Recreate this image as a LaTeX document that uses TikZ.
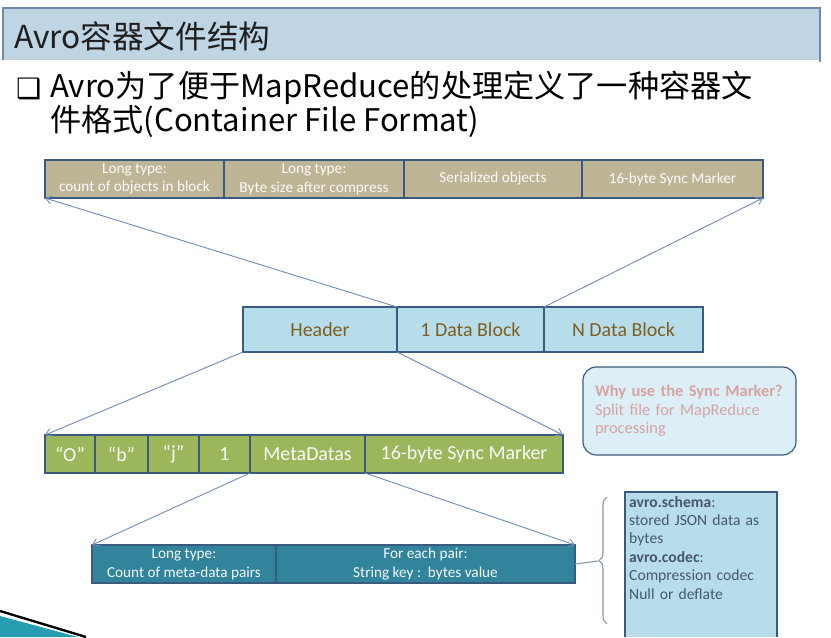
\documentclass[tikz,border=0pt]{standalone}
\usepackage{fontspec}
\setmainfont{Carlito}
\newfontfamily\cjk{Noto Sans CJK SC}
\newfontfamily\symfont{DejaVu Sans}
\usetikzlibrary{
    positioning,
    arrows.meta,
    decorations.pathreplacing
}
\definecolor{barfill}{HTML}{BFD5E4}
\definecolor{barline}{HTML}{6E8CA8}
\definecolor{cellline}{HTML}{3B5B7E}
\definecolor{tanfill}{HTML}{BEB596}
\definecolor{bluefill}{HTML}{B8DDEA}
\definecolor{greenfill}{HTML}{9CB65C}
\definecolor{tealfill}{HTML}{31849B}
\definecolor{linkcol}{HTML}{7190BC}
\definecolor{browntext}{HTML}{7D5E1E}
\definecolor{pinktext}{HTML}{D8A3A3}
\definecolor{notefill}{HTML}{DCEEF6}
\definecolor{notetext}{HTML}{45586A}
\definecolor{bracecol}{HTML}{8295A8}
\tikzset{
    >={Straight Barb[length=5pt,width=7pt]},
    cell/.style={
        draw=cellline,
        line width=1pt,
        outer sep=0pt,
        inner sep=0pt,
        align=center
    },
    tancell/.style={cell, fill=tanfill, text=white!95!tanfill,
        minimum height=1.14cm, font=\fontsize{13}{16}\selectfont},
    bluecell/.style={cell, fill=bluefill, text=browntext,
        minimum height=1.35cm, font=\fontsize{17}{20}\selectfont},
    greencell/.style={cell, fill=greenfill, text=white!95!greenfill,
        minimum height=1.14cm, font=\fontsize{17}{20}\selectfont},
    tealcell/.style={cell, fill=tealfill, text=white!95!tealfill,
        minimum height=1.14cm, font=\fontsize{13}{16}\selectfont},
    link/.style={draw=linkcol, line width=0.8pt}
}

\begin{document}
\begin{tikzpicture}[
    x=0.03cm,
    y=-0.03cm
]
    \useasboundingbox (0,0) rectangle (831,637);

    % Titelbalken
    \fill[barfill] (3,8) rectangle (820,60);
    \draw[barline, line width=1pt] (3,60) -- (3,8) -- (820,8) -- (820,62);
    \node[anchor=west, text=black!88, font=\cjk\fontsize{27}{30}\selectfont]
        (title) at (10,36) {Avro容器文件结构};

    % Aufzaehlung
    \node[anchor=base west, font=\symfont\fontsize{24}{26}\selectfont]
        (tick) at (12,98) {❑};
    \node[anchor=base west, font=\cjk\fontsize{26.6}{30}\selectfont]
        (intro1) at (46,97) {Avro为了便于MapReduce的处理定义了一种容器文};
    \node[anchor=base west, font=\cjk\fontsize{26.6}{30}\selectfont]
        (intro2) at (46,131) {件格式(Container File Format)};

    % Datenblock
    \node[tancell, minimum width=5.37cm, anchor=west] (cnt) at (45,179)
        {Long type:\\count of objects in block};
    \node[tancell, minimum width=5.40cm, right=0pt of cnt] (size)
        {Long type:\\Byte size after compress};
    \node[tancell, minimum width=5.34cm, right=0pt of size] (objs)
        {Serialized objects};
    \node[tancell, minimum width=5.43cm, right=0pt of objs] (sync)
        {16-byte Sync Marker};

    % Datei
    \node[bluecell, minimum width=4.62cm, anchor=west] (hdr) at (243,329.5)
        {Header};
    \node[bluecell, minimum width=4.41cm, right=0pt of hdr] (blk1)
        {1 Data Block};
    \node[bluecell, minimum width=4.77cm, right=0pt of blk1] (blkn)
        {N Data Block};

    % Header
    \node[greencell, minimum width=1.50cm, anchor=west] (mo) at (45,454)
        {“O”};
    \node[greencell, minimum width=1.59cm, right=0pt of mo] (mb) {“b”};
    \node[greencell, minimum width=1.53cm, right=0pt of mb] (mj) {“j”};
    \node[greencell, minimum width=1.53cm, right=0pt of mj] (mver) {1};
    \node[greencell, minimum width=3.45cm, right=0pt of mver] (meta)
        {MetaDatas};
    \node[greencell, minimum width=5.94cm, right=0pt of meta] (msync)
        {16-byte Sync Marker};

    % Metadaten
    \node[tealcell, minimum width=5.52cm, anchor=west] (npairs) at (92,564)
        {Long type:\\Count of meta-data pairs};
    \node[tealcell, minimum width=8.97cm, right=0pt of npairs] (pairs)
        {For each pair:\\String key :~~bytes value};

    % Verbindungen
    \draw[link, ->] (blk1.north west) -- (cnt.south west);
    \draw[link, ->] (blk1.north east) -- (sync.south east);
    \draw[link, ->] (hdr.south west) -- (mo.north west);
    \draw[link, ->] (hdr.south east) -- (msync.north east);
    \draw[link, ->] (meta.south west) -- (npairs.north west);
    \draw[link, ->] (meta.south east) -- (pairs.north east);

    % Hinweis
    \node[draw=cellline, line width=1pt, fill=notefill, rounded corners=0.4cm,
        minimum width=6.39cm, minimum height=2.64cm, inner xsep=0.36cm,
        text width=5.67cm, align=left, text=pinktext,
        font=\fontsize{14}{15.8}\selectfont] (why) at (689.5,411)
        {\textbf{Why use the Sync Marker?}\\Split file for MapReduce\\processing};

    % Erklaerung Metadaten
    \fill[bluefill] (625,492) rectangle (777,637);
    \draw[cellline, line width=1pt] (625,637) -- (625,492) -- (777,492) -- (777,637);
    \node[anchor=north west, text width=4.4cm, align=left, inner sep=0pt,
        text=notetext, font=\fontsize{13.3}{15.7}\selectfont] (keys) at (629,496)
        {\textbf{avro.schema}:\\stored JSON data as\\bytes\\
         \textbf{avro.codec}:\\Compression codec\\Null or deflate};

    \coordinate (tip) at (598,561);
    \draw[bracecol, line width=0.9pt, decorate,
        decoration={brace, amplitude=0.24cm}] (607,624) -- (607,497);
    \draw[bracecol, line width=0.9pt] (pairs.east) -- (tip);

    % Ecke unten links
    \fill[tealfill!80!cyan] (0,616) -- (78,637) -- (0,637) -- cycle;
    \draw[black, line width=2pt] (0,611) -- (86,637);

\end{tikzpicture}
\end{document}
